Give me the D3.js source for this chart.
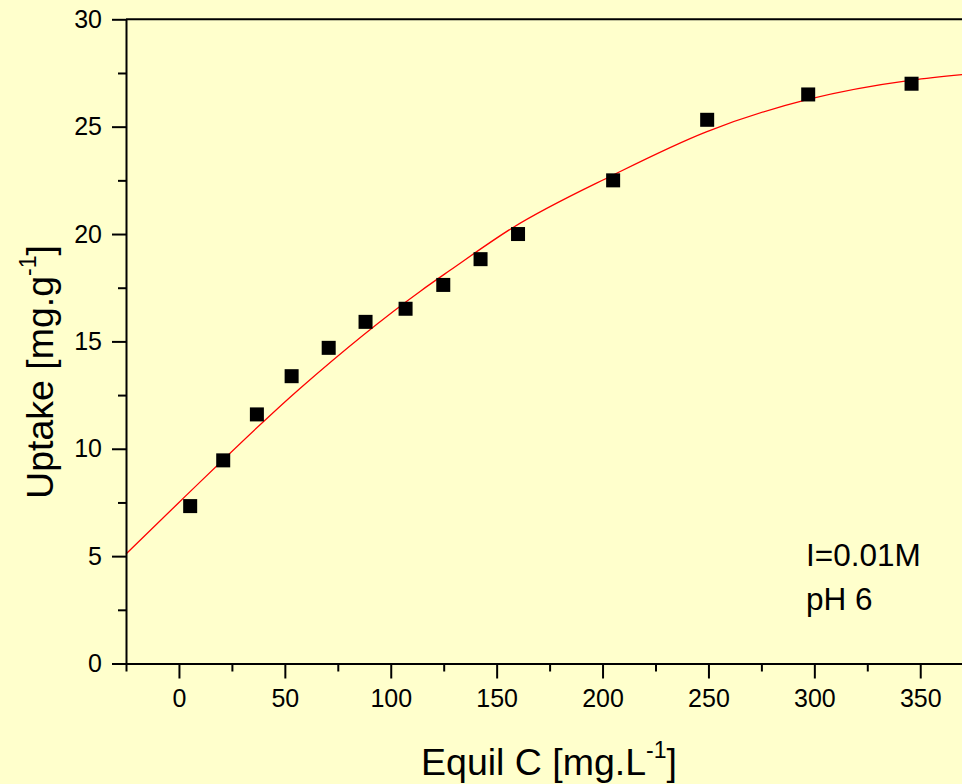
<!DOCTYPE html>
<html>
<head>
<meta charset="utf-8">
<script src="https://cdn.jsdelivr.net/npm/d3@7"></script>
<style>
  html, body { margin: 0; padding: 0; background: #FFFFCC; overflow: hidden; }
  svg { display: block; }
  text { font-family: Arial, "Liberation Sans", sans-serif; fill: #000; }
</style>
</head>
<body>
<svg id="chart" width="962" height="784"></svg>
<script>
// ---- data ----
const equilC = [5.3, 20.9, 36.8, 53.2, 70.7, 88.1, 107.0, 124.8, 142.4, 160.1, 205.0, 249.4, 297.1, 345.9];
const uptake = [7.33, 9.46, 11.60, 13.38, 14.70, 15.91, 16.52, 17.63, 18.83, 20.0, 22.50, 25.32, 26.50, 27.0];

// fitted curve
const fitC = [-25, 0, 57, 114, 128, 157, 205, 249, 297, 346, 370];
const fitU = [5.1, 7.5, 12.8, 17.34, 18.31, 20.26, 22.75, 24.76, 26.27, 27.17, 27.43];

const xMajorTicks = [0, 50, 100, 150, 200, 250, 300, 350];
const xMinorTicks = [-25, 25, 75, 125, 175, 225, 275, 325];
const yMajorTicks = [0, 5, 10, 15, 20, 25, 30];
const yMinorTicks = [2.5, 7.5, 12.5, 17.5, 22.5, 27.5];

const annotations = ["I=0.01M", "pH 6"];

// ---- drawing ----
const svg = d3.select("#chart");
svg.append("rect").attr("width", 962).attr("height", 784).attr("fill", "#FFFFCC");

const x = d3.scaleLinear().domain([-25, 370]).range([126, 962.6]);
const y = d3.scaleLinear().domain([0, 30]).range([663.5, 19.3]);

// top frame line
svg.append("line")
  .attr("x1", x(-25)).attr("x2", 962)
  .attr("y1", y(30)).attr("y2", y(30))
  .attr("stroke", "#000").attr("stroke-width", 2);

// fit curve
const line = d3.line().x((d, i) => x(fitC[i])).y((d, i) => y(fitU[i])).curve(d3.curveMonotoneX);
svg.append("path")
  .datum(fitC)
  .attr("d", line)
  .attr("fill", "none")
  .attr("stroke", "#FF0000")
  .attr("stroke-width", 1.3);

// markers
const sz = 14;
svg.append("g").selectAll("rect")
  .data(equilC)
  .join("rect")
  .attr("x", (d) => x(d) - sz / 2)
  .attr("y", (d, i) => y(uptake[i]) - sz / 2)
  .attr("width", sz).attr("height", sz)
  .attr("fill", "#000");

function styleAxis(g) {
  g.selectAll("path, line").attr("stroke", "#000").attr("stroke-width", 2);
  g.selectAll("text").attr("font-size", 25).attr("font-family", "Arial, 'Liberation Sans', sans-serif");
}

// x axis minor
svg.append("g")
  .attr("transform", `translate(0,${y(0)})`)
  .call(d3.axisBottom(x).tickValues(xMinorTicks).tickSize(8).tickSizeOuter(0).tickFormat(""))
  .call(g => { g.select(".domain").remove(); styleAxis(g); });

// x axis major
svg.append("g")
  .attr("transform", `translate(0,${y(0)})`)
  .call(d3.axisBottom(x).tickValues(xMajorTicks).tickSize(15).tickSizeOuter(0).tickPadding(11).tickFormat(d3.format("d")))
  .call(styleAxis);

// y axis minor
svg.append("g")
  .attr("transform", `translate(${x(-25)},0)`)
  .call(d3.axisLeft(y).tickValues(yMinorTicks).tickSize(8).tickSizeOuter(0).tickFormat(""))
  .call(g => { g.select(".domain").remove(); styleAxis(g); });

// y axis major
svg.append("g")
  .attr("transform", `translate(${x(-25)},0)`)
  .call(d3.axisLeft(y).tickValues(yMajorTicks).tickSize(14).tickSizeOuter(0).tickPadding(10).tickFormat(d3.format("d")))
  .call(styleAxis);

// axis titles
const xt = svg.append("text")
  .attr("x", 549).attr("y", 775)
  .attr("text-anchor", "middle")
  .attr("font-size", 37.5);
xt.append("tspan").text("Equil C [mg.L");
xt.append("tspan").attr("font-size", 23).attr("dy", -17).text("-1");
xt.append("tspan").attr("dy", 17).text("]");

const yt = svg.append("text")
  .attr("transform", "translate(53,372) rotate(-90)")
  .attr("text-anchor", "middle")
  .attr("font-size", 37.5);
yt.append("tspan").text("Uptake [mg.g");
yt.append("tspan").attr("font-size", 23).attr("dy", -17).text("-1");
yt.append("tspan").attr("dy", 17).text("]");

// annotations
svg.append("g").selectAll("text")
  .data(annotations)
  .join("text")
  .attr("x", 806)
  .attr("y", (d, i) => 566 + i * 43.5)
  .attr("font-size", 31.5)
  .text(d => d);
</script>
</body>
</html>
